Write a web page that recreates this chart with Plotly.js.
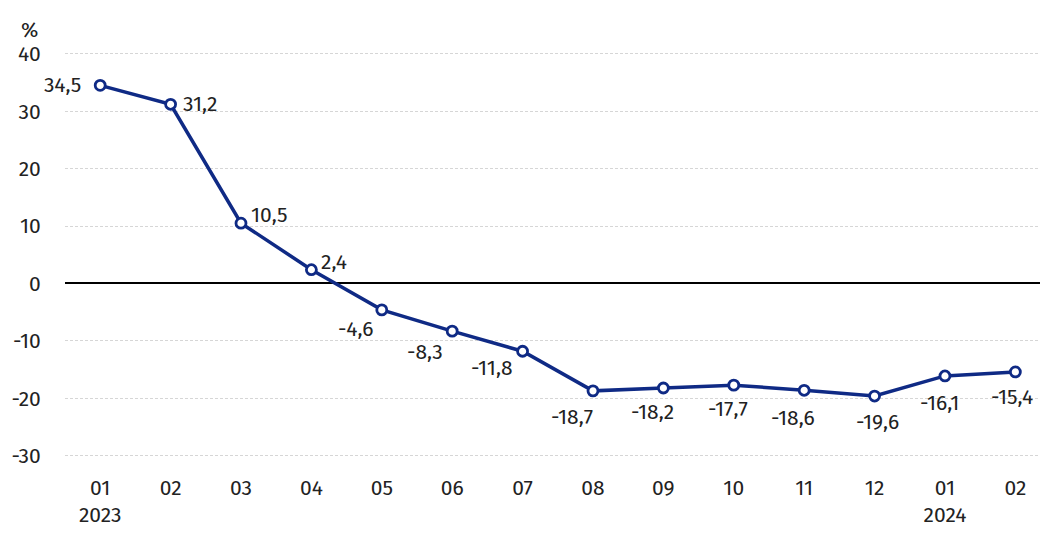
<!DOCTYPE html>
<html>
<head>
<meta charset="utf-8">
<script src="https://cdn.plot.ly/plotly-3.0.1.min.js"></script>
<style>html,body{margin:0;padding:0;background:#fff;}#chart{width:1040px;height:533px;}</style>
</head>
<body>
<div id="chart"></div>
<script>
// Data
const months = ["01","02","03","04","05","06","07","08","09","10","11","12","01","02"];
const years  = ["2023","","","","","","","","","","","","2024",""];
const values = [34.5,31.2,10.5,2.4,-4.6,-8.3,-11.8,-18.7,-18.2,-17.7,-18.6,-19.6,-16.1,-15.4];
const yTicks = [40,30,20,10,0,-10,-20,-30];

// label offsets (pixels) - layout only
const labelDx = [-38,29,29,23,-26,-27,-31,-21,-11,-6,-11,3,-5,-3];
const labelDy = [0,0,-8,-8,19,21,17,26,24,24,28,26,27,25];

const idx = months.map((_, i) => i);
const fmt = v => v.toFixed(1).replace('.', ',');
const tickText = months.map((m, i) => years[i] ? m + '<br>' + years[i] : m);

const FONT = "Fira Sans, Noto Sans, sans-serif";
const navy = '#0f2a85';
const FS = 21;

const trace = {
  x: idx, y: values, type: 'scatter', mode: 'lines+markers',
  line: {color: navy, width: 3.5},
  marker: {symbol: 'circle', size: 10, color: '#fff', line: {color: navy, width: 2.8}},
  hoverinfo: 'skip', cliponaxis: false
};

const annotations = values.map((v, i) => ({
  x: i, y: v, xref: 'x', yref: 'y', text: fmt(v), showarrow: false,
  xanchor: 'center', yanchor: 'middle', xshift: labelDx[i], yshift: -labelDy[i],
  font: {family: FONT, size: FS, color: '#222'}
}));
annotations.push({
  xref: 'paper', yref: 'paper', x: 0, y: 1, xanchor: 'center', yanchor: 'bottom',
  xshift: -36, yshift: 3, text: '%', showarrow: false,
  font: {family: FONT, size: FS, color: '#222'}
});

const layout = {
  width: 1040, height: 533,
  margin: {l: 65, r: 0, t: 48, b: 60},
  paper_bgcolor: '#fff', plot_bgcolor: '#fff',
  font: {family: FONT, size: FS, color: '#222'},
  showlegend: false,
  xaxis: {
    range: [-0.5, 13.35], tickmode: 'array', tickvals: idx, ticktext: tickText,
    showgrid: false, zeroline: false, showline: false,
    ticks: '', 
    tickfont: {family: FONT, size: FS, color: '#222'}, fixedrange: true
  },
  yaxis: {
    range: [-33, 41], tickmode: 'array', tickvals: yTicks, ticktext: yTicks.map(String),
    showgrid: true, gridcolor: '#d6d6d6', gridwidth: 1, griddash: '3px,2px',
    zeroline: true, zerolinecolor: '#000', zerolinewidth: 2,
    showline: false, ticks: 'outside', ticklen: 19, tickcolor: 'rgba(0,0,0,0)',
    tickfont: {family: FONT, size: FS, color: '#222'}, fixedrange: true
  },
  annotations: annotations
};

Plotly.newPlot('chart', [trace], layout, {displayModeBar: false, staticPlot: true});
</script>
</body>
</html>
